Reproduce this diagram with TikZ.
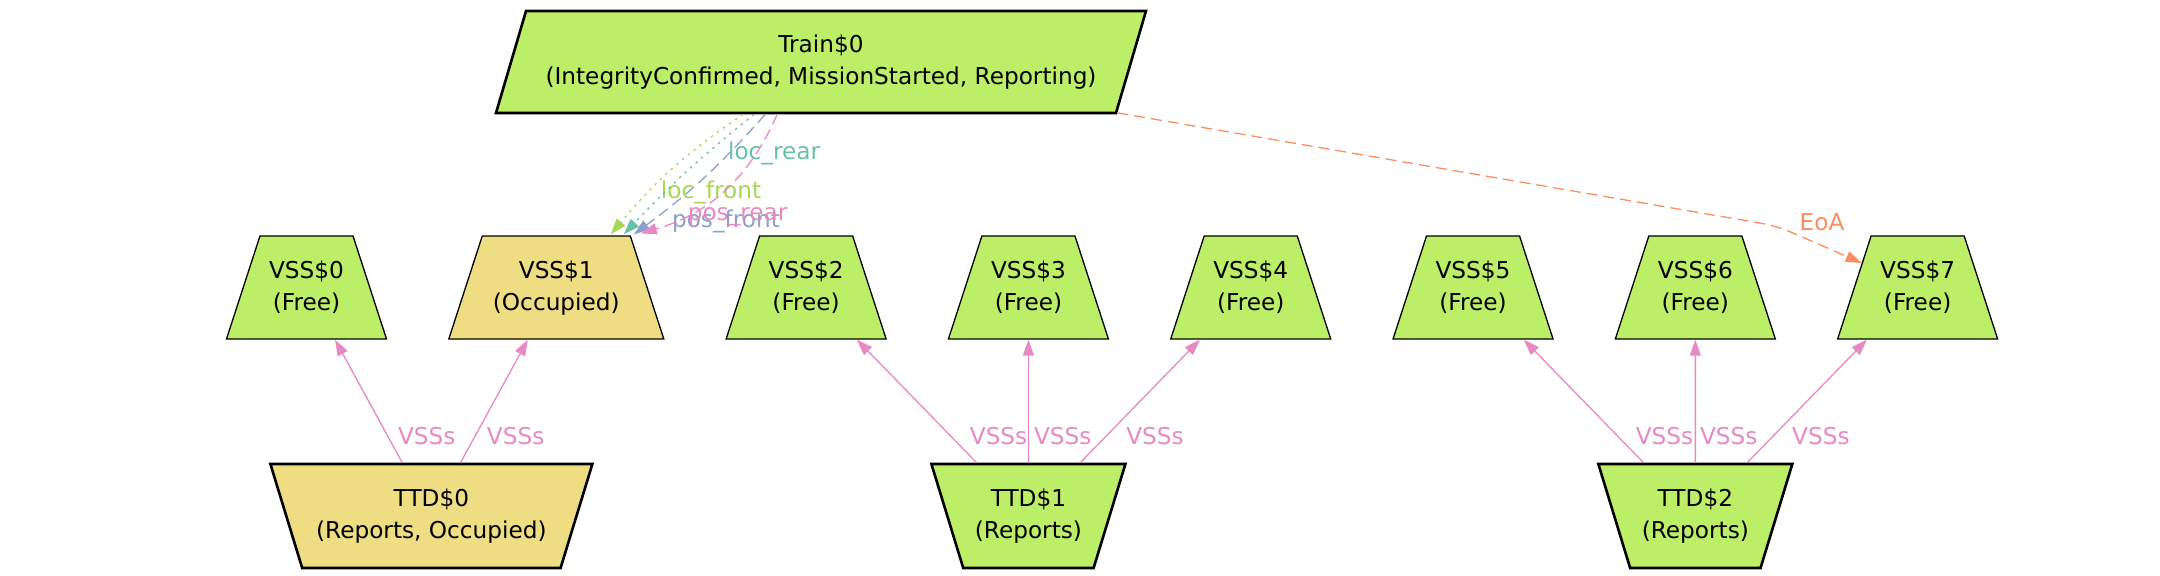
\documentclass[tikz,border=0pt]{standalone}
\usepackage{fontspec}
\setmainfont{DejaVu Sans}
\usetikzlibrary{arrows.meta, positioning, calc, shapes.geometric}

\definecolor{freefill}{HTML}{BCEE68}
\definecolor{occfill}{HTML}{EEDD82}
\definecolor{setgreen}{HTML}{A6D854}
\definecolor{setteal}{HTML}{66C2A5}
\definecolor{setblue}{HTML}{8DA0CB}
\definecolor{setpink}{HTML}{E78AC3}
\definecolor{setorange}{HTML}{FC8D62}

\begin{document}
\begin{tikzpicture}[
    x=0.5pt, y=-0.5pt,
    node distance=61.5pt and 47.2pt,
    font=\fontsize{11.6}{16}\selectfont,
    trainbox/.style={
        trapezium,
        trapezium left angle=73.6,
        trapezium right angle=106.4,
        trapezium stretches body,
        draw=black,
        fill=freefill,
        align=center,
        text height=25pt,
        text depth=2pt,
        inner xsep=0pt,
        inner ysep=12pt,
        minimum width=325pt,
        line width=1.3pt
    },
    vssbox/.style={
        trapezium,
        trapezium left angle=72,
        trapezium right angle=72,
        trapezium stretches body,
        draw=black,
        fill=freefill,
        align=center,
        text height=25pt,
        text depth=2pt,
        inner xsep=0pt,
        inner ysep=12.25pt,
        minimum width=80pt,
        line width=0.65pt
    },
    ttdbox/.style={
        trapezium,
        shape border rotate=180,
        trapezium left angle=73,
        trapezium right angle=73,
        trapezium stretches body,
        draw=black,
        fill=freefill,
        align=center,
        text height=25pt,
        text depth=2pt,
        inner xsep=0pt,
        inner ysep=12.5pt,
        minimum width=97pt,
        line width=1.3pt
    },
    occupied/.style={fill=occfill},
    vssedge/.style={
        -{Triangle[length=8pt,width=5.5pt]},
        line width=0.65pt,
        draw=setpink
    },
    vsslabel/.style={
        anchor=west,
        inner sep=0pt,
        text=setpink
    },
    trainedge/.style={
        -{Triangle[length=8pt,width=5.5pt]},
        line width=0.65pt
    },
    dotline/.style={dash pattern=on 1.2pt off 2.5pt},
    dashline/.style={dash pattern=on 5.5pt off 3pt}
]

% Nodes
\useasboundingbox (0,0) rectangle (2160,576);
\node (train) [trainbox] at (821,62) {Train\$0\\(IntegrityConfirmed, MissionStarted, Reporting)};

\node (vss0) [vssbox] at (306.5,287.5) {VSS\$0\\(Free)};
\node (vss1) [vssbox, occupied, minimum width=107.5pt, right=of vss0] {VSS\$1\\(Occupied)};
\node (vss2) [vssbox, right=of vss1] {VSS\$2\\(Free)};
\node (vss3) [vssbox, right=of vss2] {VSS\$3\\(Free)};
\node (vss4) [vssbox, right=of vss3] {VSS\$4\\(Free)};
\node (vss5) [vssbox, right=of vss4] {VSS\$5\\(Free)};
\node (vss6) [vssbox, right=of vss5] {VSS\$6\\(Free)};
\node (vss7) [vssbox, right=of vss6] {VSS\$7\\(Free)};

\coordinate (mid01) at ($(vss0.south)!0.5!(vss1.south)$);
\node (ttd0) [ttdbox, occupied, minimum width=161pt, below=of mid01] {TTD\$0\\(Reports, Occupied)};
\node (ttd1) [ttdbox, below=of vss3] {TTD\$1\\(Reports)};
\node (ttd2) [ttdbox, below=of vss6] {TTD\$2\\(Reports)};

% Train to VSS$1
\draw [trainedge, setgreen, dotline] ($(train.bottom left corner)+(249,0)$) to[bend right=8] node[pos=0.7, anchor=west, xshift=6pt, inner sep=0pt] {loc\_front} ($(vss1.top left corner)+(129,-1)$);
\draw [trainedge, setteal, dotline] ($(train.bottom left corner)+(260,0)$) to[bend right=4] node[pos=0.33, anchor=west, xshift=10pt, inner sep=0pt] {loc\_rear} ($(vss1.top left corner)+(142,-1)$);
\draw [trainedge, setblue, dashline] ($(train.bottom left corner)+(271,0)$) to[bend left=6] node[pos=0.89, anchor=west, xshift=10pt, inner sep=0pt] {pos\_front} ($(vss1.top left corner)+(152,-1)$);
\draw [trainedge, setpink, dashline] ($(train.bottom left corner)+(283,0)$) to[bend left=25] node[pos=0.76, anchor=west, xshift=1pt, inner sep=0pt] {pos\_rear} ($(vss1.top left corner)+(159,-2)$);

% End of authority
\coordinate (eoabend) at (1777,226);
\draw [trainedge, setorange, dashline, rounded corners=8pt] (train) -- (eoabend) node[anchor=west, xshift=11pt, yshift=2pt, inner sep=0pt] {EoA} -- (vss7);

% TTD to VSS
\draw [vssedge] (ttd0) -- node[vsslabel, pos=0.22, xshift=5pt] {VSSs} (vss0);
\draw [vssedge] (ttd0) -- node[vsslabel, pos=0.22, xshift=5.5pt] {VSSs} (vss1);
\draw [vssedge] (ttd1) -- node[vsslabel, pos=0.22, xshift=9.5pt] {VSSs} (vss2);
\draw [vssedge] (ttd1) -- node[vsslabel, pos=0.22, xshift=2.5pt] {VSSs} (vss3);
\draw [vssedge] (ttd1) -- node[vsslabel, pos=0.22, xshift=9.5pt] {VSSs} (vss4);
\draw [vssedge] (ttd2) -- node[vsslabel, pos=0.22, xshift=9pt] {VSSs} (vss5);
\draw [vssedge] (ttd2) -- node[vsslabel, pos=0.22, xshift=2pt] {VSSs} (vss6);
\draw [vssedge] (ttd2) -- node[vsslabel, pos=0.22, xshift=9pt] {VSSs} (vss7);

\end{tikzpicture}
\end{document}
